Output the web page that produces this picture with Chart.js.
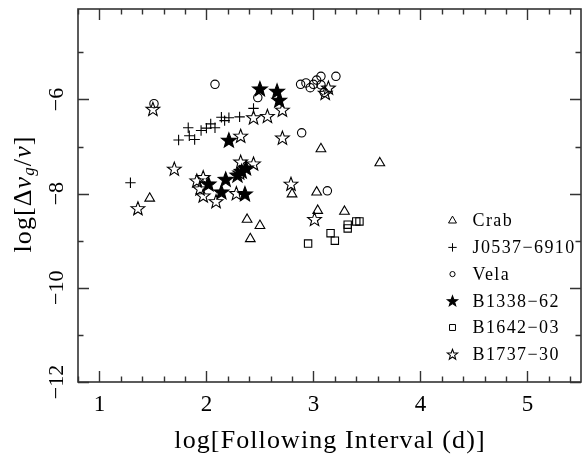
<!DOCTYPE html>
<html><head><meta charset="utf-8">
<script src="https://cdn.jsdelivr.net/npm/chart.js@4/dist/chart.umd.min.js"></script>
<style>html,body{margin:0;padding:0;background:#fff;}#c{display:block;}</style>
</head><body>
<canvas id="c" width="582" height="464"></canvas>
<script>
// ---- data (log following interval, log glitch size) ----
const crabX = [1.47, 2.38, 2.50, 2.41, 2.80, 3.03, 3.04, 3.29, 3.07, 3.62];
const crabY = [-8.10, -8.55, -8.68, -8.96, -8.01, -7.97, -8.36, -8.38, -7.05, -7.35];
const j0537X = [1.29, 1.74, 1.83, 1.84, 1.89, 1.95, 2.00, 2.04, 2.08, 2.14, 2.17, 2.21, 2.31, 2.44];
const j0537Y = [-7.77, -6.86, -6.60, -6.77, -6.85, -6.66, -6.61, -6.52, -6.60, -6.38, -6.45, -6.39, -6.37, -6.19];
const velaX = [1.51, 2.08, 2.48, 2.88, 2.93, 2.97, 3.00, 3.03, 3.07, 3.07, 3.21, 3.10, 2.89, 3.13];
const velaY = [-6.09, -5.68, -5.96, -5.68, -5.65, -5.75, -5.68, -5.59, -5.51, -5.69, -5.51, -5.85, -6.71, -7.94];
const b1338X = [2.50, 2.66, 2.68, 2.21, 2.02, 2.18, 2.14, 2.29, 2.33, 2.37, 2.36];
const b1338Y = [-5.77, -5.82, -6.01, -6.86, -7.79, -7.69, -7.96, -7.60, -7.52, -7.45, -8.00];
const b1642X = [2.95, 3.16, 3.20, 3.32, 3.32, 3.40, 3.43];
const b1642Y = [-9.06, -8.84, -9.00, -8.66, -8.74, -8.59, -8.59];
const b1737X = [1.50, 1.36, 1.70, 1.91, 1.97, 1.94, 1.97, 2.09, 2.28, 2.31, 2.32, 2.44, 2.32, 2.44, 2.57, 2.71, 2.71, 2.79, 3.01, 3.14, 3.11];
const b1737Y = [-6.20, -8.31, -7.47, -7.72, -7.65, -7.89, -8.04, -8.16, -7.99, -7.55, -7.32, -7.36, -6.77, -6.38, -6.35, -6.22, -6.81, -7.79, -8.54, -5.75, -5.86];
const seriesNames = ['Crab', 'J0537\u22126910', 'Vela', 'B1338\u221262', 'B1642\u221203', 'B1737\u221230'];
const xTickLabels = [1, 2, 3, 4, 5];
const yTickLabels = [-6, -8, -10, -12];

const SERIF = '"Liberation Serif", "Times New Roman", serif';

function pts(xs, ys) { return xs.map((x, i) => ({x: x, y: ys[i]})); }

function starPath(g, cx, cy, R) {
  cy += R * 0.1;
  g.beginPath();
  for (let i = 0; i < 10; i++) {
    const r = (i % 2 === 0) ? R : R * 0.42;
    const a = -Math.PI / 2 + i * Math.PI / 5;
    const px = cx + r * Math.cos(a), py = cy + r * Math.sin(a);
    if (i === 0) g.moveTo(px, py); else g.lineTo(px, py);
  }
  g.closePath();
}
function drawStar(g, cx, cy, R, filled) {
  starPath(g, cx, cy, R);
  g.lineWidth = 1.1;
  g.lineJoin = 'miter';
  g.strokeStyle = '#000';
  if (filled) { g.fillStyle = '#000'; g.fill(); }
  g.stroke();
}

// 'star5' styles are drawn as five-pointed stars at the library-computed point positions
const styles = [
  {pointStyle: 'triangle', radius: 5.6, fill: false},
  {pointStyle: 'cross', radius: 5.2, fill: false},
  {pointStyle: 'circle', radius: 4.2, fill: false},
  {pointStyle: 'star5', radius: 7.8, fill: true},
  {pointStyle: 'rect', radius: 5.2, fill: false},
  {pointStyle: 'star5', radius: 7.2, fill: false}
];
const legendStyles = [
  {pointStyle: 'triangle', radius: 4.6},
  {pointStyle: 'cross', radius: 4.2},
  {pointStyle: 'circle', radius: 2.6},
  {pointStyle: 'star5', radius: 5.4},
  {pointStyle: 'rect', radius: 4.2},
  {pointStyle: 'star5', radius: 5.4}
];

const allData = [pts(crabX, crabY), pts(j0537X, j0537Y), pts(velaX, velaY), pts(b1338X, b1338Y), pts(b1642X, b1642Y), pts(b1737X, b1737Y)];

const datasets = allData.map((d, i) => {
  const isStar = styles[i].pointStyle === 'star5';
  return {
    label: seriesNames[i],
    data: d,
    pointStyle: isStar ? 'circle' : styles[i].pointStyle,
    pointRadius: isStar ? 0 : styles[i].radius,
    pointHoverRadius: isStar ? 0 : styles[i].radius,
    pointBorderColor: '#000',
    pointBackgroundColor: 'rgba(0,0,0,0)',
    pointBorderWidth: 1.1,
    showLine: false,
    order: 6 - i
  };
});

const deco = {
  id: 'deco',
  beforeDatasetsDraw(chart) {
    const ctx = chart.ctx, a = chart.chartArea;
    const xs = chart.scales.x, ys = chart.scales.y;
    ctx.save();
    ctx.strokeStyle = '#333';
    ctx.lineWidth = 1.4;
    ctx.beginPath();
    for (let v = 0.8; v < 5.5 + 1e-6; v += 0.2) {
      const vv = Math.round(v * 10) / 10;
      const major = Math.abs(vv - Math.round(vv)) < 1e-6;
      const L = major ? 11 : 5.5;
      const px = Math.round(xs.getPixelForValue(vv)) + 0.5;
      if (px > a.right - 1) continue;
      ctx.moveTo(px, a.bottom); ctx.lineTo(px, a.bottom - L);
      ctx.moveTo(px, a.top); ctx.lineTo(px, a.top + L);
    }
    for (let v = -12; v <= -4; v += 1) {
      const major = (v % 2 === 0);
      const L = major ? 11 : 5.5;
      const py = Math.round(ys.getPixelForValue(v)) + 0.5;
      if (py < a.top + 1) continue;
      ctx.moveTo(a.left, py); ctx.lineTo(a.left + L, py);
      ctx.moveTo(a.right, py); ctx.lineTo(a.right - L, py);
    }
    ctx.stroke();
    ctx.lineWidth = 1.6;
    ctx.strokeRect(a.left, a.top, a.right - a.left, a.bottom - a.top);
    ctx.restore();
  },
  afterDatasetsDraw(chart) {
    const ctx = chart.ctx;
    ctx.save();
    styles.forEach((s, i) => {
      if (s.pointStyle !== 'star5') return;
      chart.getDatasetMeta(i).data.forEach(el => drawStar(ctx, el.x, el.y, s.radius, s.fill));
    });
    ctx.restore();
  },
  afterDraw(chart) {
    const ctx = chart.ctx;
    const xs = chart.scales.x, ys = chart.scales.y;
    ctx.save();
    ctx.fillStyle = '#000';
    ctx.textAlign = 'center';
    ctx.textBaseline = 'middle';
    ctx.font = '23px ' + SERIF;
    ctx.letterSpacing = '0px';
    xTickLabels.forEach(v => {
      ctx.fillText(String(v), xs.getPixelForValue(v), 405);
    });
    ctx.font = '22px ' + SERIF;
    yTickLabels.forEach(v => {
      ctx.save();
      ctx.translate(57, ys.getPixelForValue(v));
      ctx.rotate(-Math.PI / 2);
      ctx.fillText(String(v).replace('-', '\u2212'), 0, 0);
      ctx.restore();
    });
    // x title
    ctx.font = '26px ' + SERIF;
    ctx.letterSpacing = '1.1px';
    ctx.fillText('log[Following Interval (d)]', 330, 441);
    // y title with subscript
    const parts = [
      {t: 'log[\u0394', f: '26px ' + SERIF, dy: 0},
      {t: '\u03BD', f: 'italic 26px ' + SERIF, dy: 0},
      {t: 'g', f: 'italic 17px ' + SERIF, dy: 6},
      {t: '/', f: '26px ' + SERIF, dy: 0},
      {t: '\u03BD', f: 'italic 26px ' + SERIF, dy: 0},
      {t: ']', f: '26px ' + SERIF, dy: 0}
    ];
    ctx.letterSpacing = '1.1px';
    let total = 0;
    parts.forEach(p => { ctx.font = p.f; p.w = ctx.measureText(p.t).width; total += p.w; });
    ctx.save();
    ctx.translate(24, 194);
    ctx.rotate(-Math.PI / 2);
    ctx.textAlign = 'left';
    let cx = -total / 2;
    parts.forEach(p => { ctx.font = p.f; ctx.fillText(p.t, cx, p.dy); cx += p.w; });
    ctx.restore();
    // legend
    const ly0 = 220.7, dy = 26.7;
    ctx.textAlign = 'left';
    ctx.font = '18px ' + SERIF;
    ctx.letterSpacing = '1.4px';
    seriesNames.forEach((n, i) => {
      const y = ly0 + i * dy;
      const ls = legendStyles[i];
      ctx.save();
      if (ls.pointStyle === 'star5') {
        drawStar(ctx, 452.5, y, ls.radius, i === 3);
      } else {
        ctx.strokeStyle = '#000';
        ctx.fillStyle = 'rgba(0,0,0,0)';
        ctx.lineWidth = 1;
        Chart.helpers.drawPoint(ctx, {pointStyle: ls.pointStyle, radius: ls.radius, borderWidth: 1, rotation: 0}, 452.5, y);
      }
      ctx.restore();
      ctx.fillStyle = '#000';
      ctx.fillText(n, 472.5, y + 1);
    });
    ctx.restore();
  }
};

new Chart(document.getElementById('c'), {
  type: 'scatter',
  data: {datasets: datasets},
  options: {
    responsive: false,
    animation: false,
    devicePixelRatio: 1,
    layout: {autoPadding: false, padding: {left: 78, top: 9, right: 1, bottom: 82}},
    plugins: {legend: {display: false}, tooltip: {enabled: false}},
    events: [],
    scales: {
      x: {type: 'linear', min: 0.8, max: 5.5, display: false},
      y: {type: 'linear', min: -12, max: -4.08, display: false}
    }
  },
  plugins: [deco]
});
</script>
</body></html>
